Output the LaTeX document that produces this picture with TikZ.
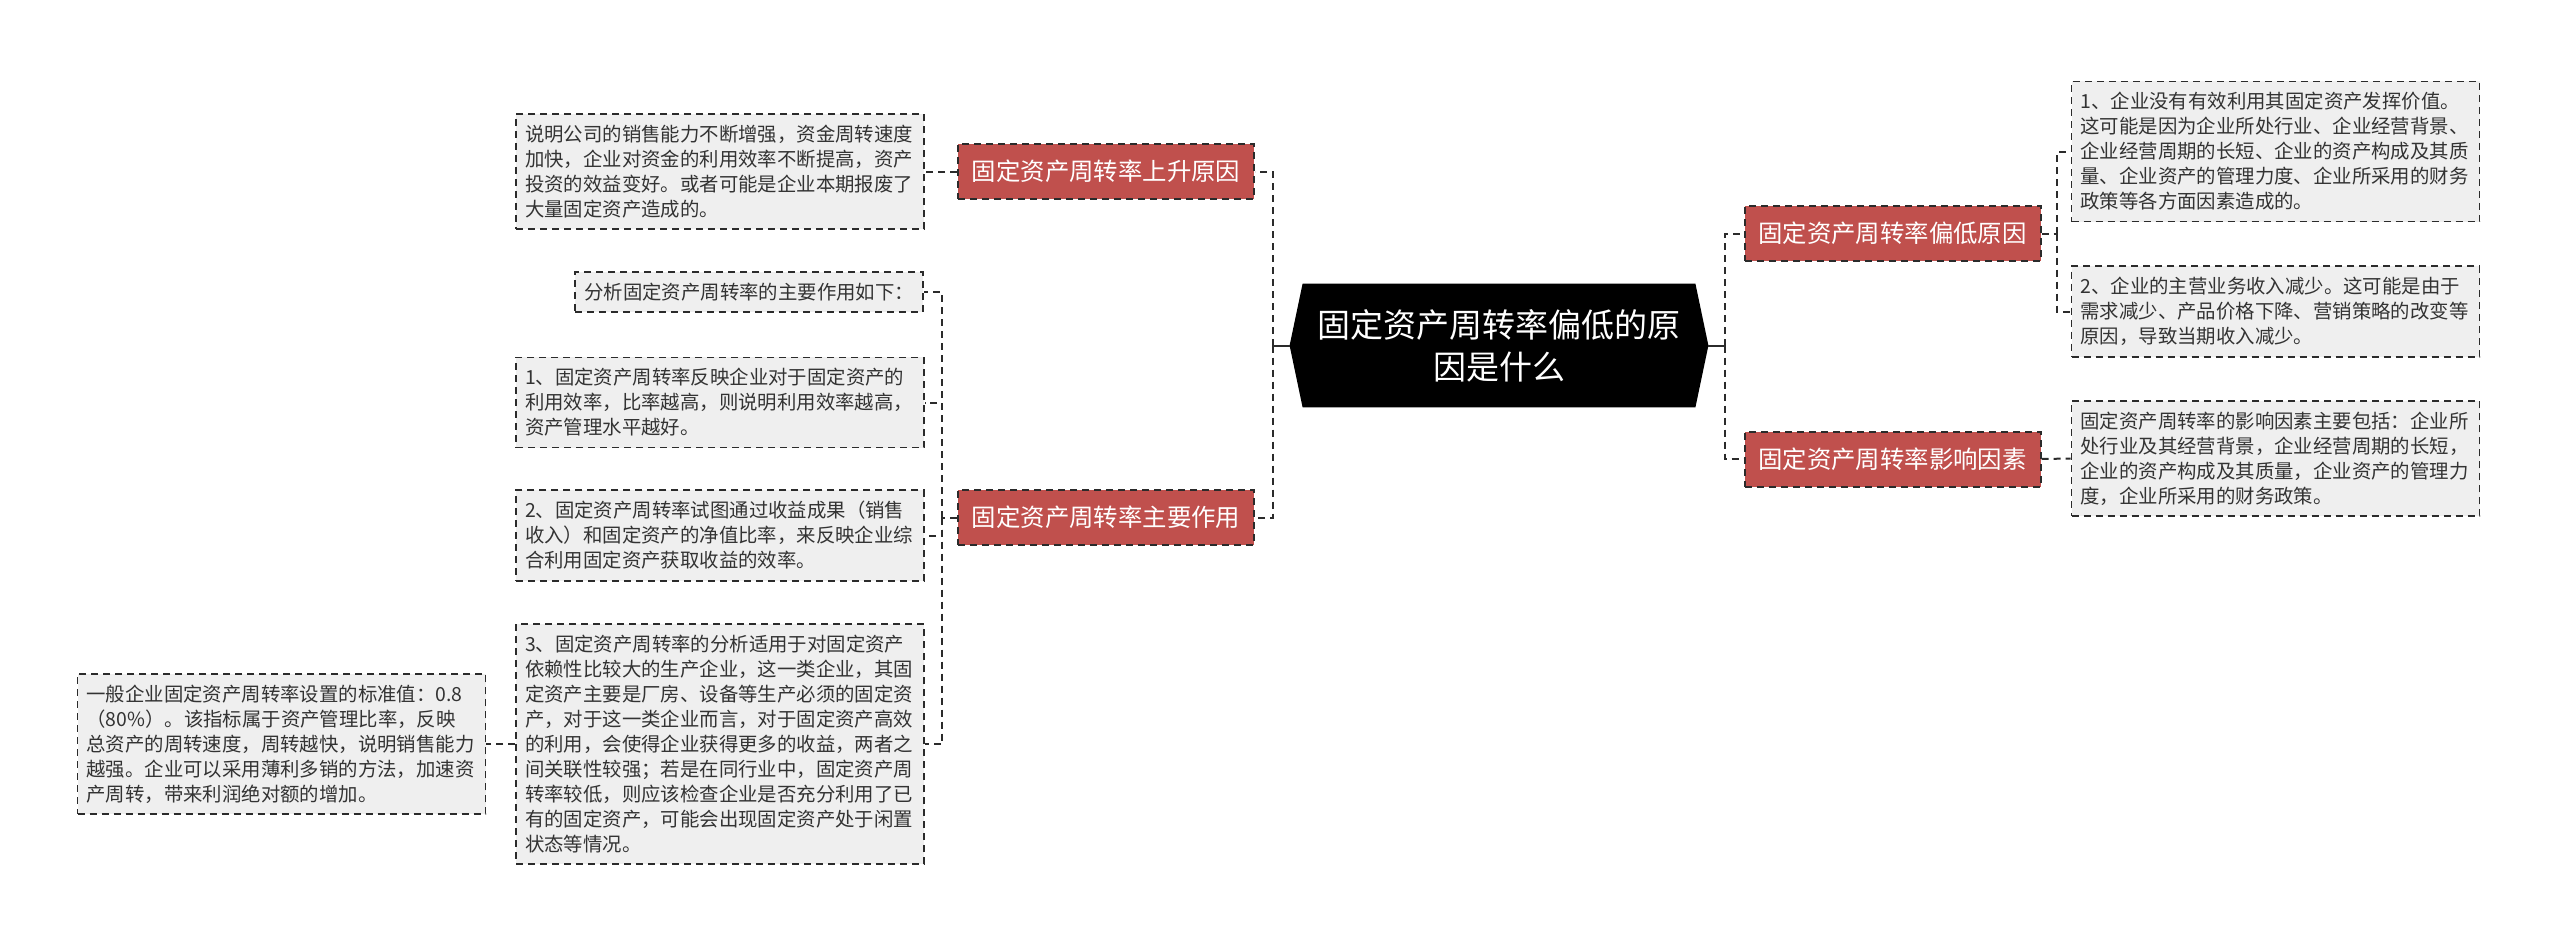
\documentclass[tikz,border=0pt]{standalone}
\usepackage{fontspec}
\setmainfont{Noto Sans CJK SC}
\usetikzlibrary{positioning,backgrounds}
\definecolor{Brick}{HTML}{C0504D}
\definecolor{Paper}{HTML}{EFEFEF}
\definecolor{Ink}{HTML}{333333}
\definecolor{Edge}{HTML}{2B2B2B}

\begin{document}
\begin{tikzpicture}[x=0.5pt,y=-0.5pt,
  topic/.style={fill=Brick,draw=Edge,dash pattern=on 3.5pt off 2.5pt,line width=1pt,text=white,
    font=\fontsize{12.2}{14}\selectfont,minimum width=148pt,minimum height=27.5pt,inner sep=0pt},
  leaf/.style={fill=Paper,draw=Edge,dash pattern=on 3.5pt off 2.5pt,line width=0.9pt,text=Ink,
    font=\fontsize{9.7}{12.5}\selectfont,align=left,inner xsep=4.5pt,inner ysep=5.5pt},
  wide/.style={leaf,text width=195pt},
  link/.style={draw=Edge,dash pattern=on 3.5pt off 2.5pt,line width=1pt},
  root/.style={text=white,font=\fontsize{16.5}{21}\selectfont,align=center,text width=190pt,
    minimum width=209pt,minimum height=61.5pt,inner sep=0pt}
]
\useasboundingbox (0,0) rectangle (2560,949);

% centre
\node[root] (root) at (1499,345.5) {固定资产周转率偏低的原\\因是什么};
\begin{scope}[on background layer]
\fill[black] ([xshift=6.5pt]root.north west) -- ([xshift=-6.5pt]root.north east) -- (root.east)
  -- ([xshift=-6.5pt]root.south east) -- ([xshift=6.5pt]root.south west) -- (root.west) -- cycle;
\end{scope}

% left side
\node[topic] (up) at (1106,171.5) {固定资产周转率上升原因};
\node[wide] (ta) at (720,171.5) {说明公司的销售能力不断增强，资金周转速度\\加快，企业对资金的利用效率不断提高，资产\\投资的效益变好。或者可能是企业本期报废了\\大量固定资产造成的。};

\node[topic] (main) at (1106,517.5) {固定资产周转率主要作用};
\node[leaf,anchor=east] (an) at (924,292) {分析固定资产周转率的主要作用如下：};
\node[wide] (m1) at (720,402.5) {1、固定资产周转率反映企业对于固定资产的\\利用效率，比率越高，则说明利用效率越高，\\资产管理水平越好。};
\node[wide] (m2) at (720,535.5) {2、固定资产周转率试图通过收益成果（销售\\收入）和固定资产的净值比率，来反映企业综\\合利用固定资产获取收益的效率。};
\node[wide] (m3) at (720,744) {3、固定资产周转率的分析适用于对固定资产\\依赖性比较大的生产企业，这一类企业，其固\\定资产主要是厂房、设备等生产必须的固定资\\产，对于这一类企业而言，对于固定资产高效\\的利用，会使得企业获得更多的收益，两者之\\间关联性较强；若是在同行业中，固定资产周\\转率较低，则应该检查企业是否充分利用了已\\有的固定资产，可能会出现固定资产处于闲置\\状态等情况。};
\node[wide] (fl) at (281.5,744) {一般企业固定资产周转率设置的标准值：0.8\\（80\%）。该指标属于资产管理比率，反映\\总资产的周转速度，周转越快，说明销售能力\\越强。企业可以采用薄利多销的方法，加速资\\产周转，带来利润绝对额的增加。};

% right side
\node[topic] (low) at (1892.5,233.5) {固定资产周转率偏低原因};
\node[wide] (r1) at (2275.5,151.5) {1、企业没有有效利用其固定资产发挥价值。\\这可能是因为企业所处行业、企业经营背景、\\企业经营周期的长短、企业的资产构成及其质\\量、企业资产的管理力度、企业所采用的财务\\政策等各方面因素造成的。};
\node[wide] (r2) at (2275.5,311.5) {2、企业的主营业务收入减少。这可能是由于\\需求减少、产品价格下降、营销策略的改变等\\原因，导致当期收入减少。};

\node[topic] (fac) at (1892.5,459) {固定资产周转率影响因素};
\node[wide] (r3) at (2275.5,458.5) {固定资产周转率的影响因素主要包括：企业所\\处行业及其经营背景，企业经营周期的长短，\\企业的资产构成及其质量，企业资产的管理力\\度，企业所采用的财务政策。};

% connectors
\coordinate (lj) at (1273,345.5);
\coordinate (rj) at (1725,345.5);
\draw[line width=1pt,draw=Edge] (root.west) -- (lj) (root.east) -- (rj);
\foreach \n in {up,main} \draw[link] (lj) |- (\n.east);
\foreach \n in {low,fac} \draw[link] (rj) |- (\n.west);
\draw[link] (up.west) -- (ta.east);
\coordinate (mj) at (942,517.5);
\draw[link] (main.west) -- (mj);
\foreach \n in {an,m1,m2,m3} \draw[link] (mj) |- (\n.east);
\draw[link] (m3.west) -- (fl.east);
\coordinate (lowj) at (2057,233.5);
\draw[link] (low.east) -- (lowj);
\foreach \n in {r1,r2} \draw[link] (lowj) |- (\n.west);
\draw[link] (fac.east) -- (r3.west);
\end{tikzpicture}
\end{document}
